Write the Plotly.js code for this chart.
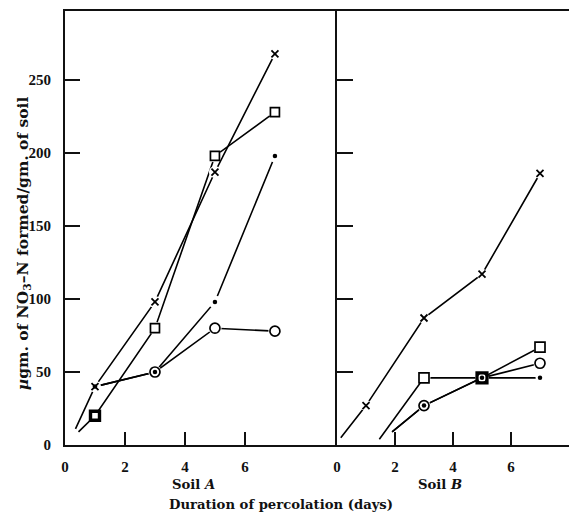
<!DOCTYPE html>
<html>
<head>
<meta charset="utf-8">
<script src="https://cdn.plot.ly/plotly-3.0.1.min.js"></script>
<style>html,body{margin:0;padding:0;background:#fff;}#chart{width:569px;height:519px;}</style>
</head>
<body>
<div id="chart"></div>
<script>
// ---- Data ----
var days = [1, 3, 5, 7];
var daysB = [3, 5, 7];

// Soil A
var soilA_cross  = [40, 98, 187, 268];
var soilA_square = [20, 80, 198, 228];
var soilA_dot    = [40, 50, 98, 198];
var soilA_circle = [40, 50, 80, 78];
var soilA_crossStart  = [0.35, 11];
var soilA_squareStart = [0.45, 9];

// Soil B
var soilB_cross  = [27, 87, 117, 186];
var soilB_square = [46, 46, 67];
var soilB_circle = [27, 46, 56];
var soilB_dot    = [27, 46, 46];
var soilB_crossStart  = [0.13, 5];
var soilB_squareStart = [1.46, 4];
var soilB_circleStart = [1.9, 9];

var yTicks = [0, 50, 100, 150, 200, 250];
var xTicks = [0, 2, 4, 6];

// ---- Build traces ----
var LW = 1.6;
function lineTrace(xs, ys, xa, ya) {
  return {x: xs, y: ys, xaxis: xa, yaxis: ya, mode: 'lines', type: 'scatter',
          line: {color: '#000', width: LW}, hoverinfo: 'skip', showlegend: false};
}
function withStart(start, xs, ys) {
  return {x: [start[0]].concat(xs), y: [start[1]].concat(ys)};
}
var traces = [];
// Soil A lines
var a1 = withStart(soilA_crossStart, days, soilA_cross);
var a2 = withStart(soilA_squareStart, days, soilA_square);
traces.push(lineTrace(a1.x, a1.y, 'x', 'y'));
traces.push(lineTrace(a2.x, a2.y, 'x', 'y'));
traces.push(lineTrace(days, soilA_dot, 'x', 'y'));
traces.push(lineTrace(days, soilA_circle, 'x', 'y'));
// Soil B lines
var b1 = withStart(soilB_crossStart, days, soilB_cross);
var b2 = withStart(soilB_squareStart, daysB, soilB_square);
var b3 = withStart(soilB_circleStart, daysB, soilB_circle);
var b4 = withStart(soilB_circleStart, daysB, soilB_dot);
traces.push(lineTrace(b1.x, b1.y, 'x2', 'y2'));
traces.push(lineTrace(b2.x, b2.y, 'x2', 'y2'));
traces.push(lineTrace(b3.x, b3.y, 'x2', 'y2'));
traces.push(lineTrace(b4.x, b4.y, 'x2', 'y2'));

// white halos to break lines near the symbols
function halo(xs, ys, xa, ya, size) {
  return {x: xs, y: ys, xaxis: xa, yaxis: ya, mode: 'markers', type: 'scatter',
          marker: {color: '#fff', size: size, line: {width: 0}}, hoverinfo: 'skip', showlegend: false};
}
traces.push(halo(days, soilA_cross, 'x', 'y', 12));
traces.push(halo(days, soilA_square, 'x', 'y', 13));
traces.push(halo(days.slice(1), soilA_dot.slice(1), 'x', 'y', 13));
traces.push(halo(days.slice(1), soilA_circle.slice(1), 'x', 'y', 13));
traces.push(halo(days, soilB_cross, 'x2', 'y2', 11));
traces.push(halo(daysB, soilB_square, 'x2', 'y2', 13));
traces.push(halo(daysB, soilB_circle, 'x2', 'y2', 13));
traces.push(halo(daysB, soilB_dot, 'x2', 'y2', 9));

function markers(xs, ys, xa, ya, m) {
  return {x: xs, y: ys, xaxis: xa, yaxis: ya, mode: 'markers', type: 'scatter',
          marker: m, hoverinfo: 'skip', showlegend: false};
}
var crossM  = {symbol: 'x-thin-open', size: 7, color: '#000', line: {color: '#000', width: 1.8}};
var circleM = {symbol: 'circle-open', size: 10, color: '#000', line: {color: '#000', width: 1.7}};
var dotM    = {symbol: 'circle', size: 4.5, color: '#000', line: {width: 0}};

traces.push(markers(days, soilA_cross, 'x', 'y', crossM));
traces.push(markers(days, soilA_square, 'x', 'y',
  {symbol: 'square-open', size: 9, color: '#000', line: {color: '#000', width: [3.4, 1.7, 1.7, 1.7]}}));
traces.push(markers(days.slice(1), soilA_circle.slice(1), 'x', 'y', circleM));
traces.push(markers(days, soilA_dot, 'x', 'y', dotM));
traces.push(markers(days, soilB_cross, 'x2', 'y2', crossM));
traces.push(markers(daysB, soilB_square, 'x2', 'y2',
  {symbol: 'square-open', size: 10, color: '#000', line: {color: '#000', width: [1.7, 3.2, 1.7]}}));
traces.push(markers(daysB, soilB_circle, 'x2', 'y2', circleM));
traces.push(markers(daysB, soilB_dot, 'x2', 'y2', dotM));

// ---- Layout ----
var FONT = 'DejaVu Serif';
var tickFont = {family: 'Liberation Serif', size: 15, color: '#111', weight: 'bold'};
var split = 272 / 504;
var commonX = {showgrid: false, zeroline: false, showline: true, linecolor: '#111', linewidth: 2,
  mirror: true, ticks: 'inside', ticklen: 13, tickwidth: 1.5, tickcolor: '#111',
  tickvals: xTicks, ticktext: xTicks.map(String), tickfont: tickFont, ticklabelstandoff: 7, fixedrange: true};
var commonY = {showgrid: false, zeroline: false, showline: true, linecolor: '#111', linewidth: 2,
  ticks: 'inside', ticklen: 15, tickwidth: 1.5, tickcolor: '#111', range: [0, 297.3],
  tickvals: yTicks, ticktext: yTicks.map(String), tickfont: tickFont, ticklabelstandoff: 9, fixedrange: true};

var titleFont = {family: FONT, size: 13.2, color: '#111', weight: 'bold'};
var layout = {
  width: 569, height: 519,
  margin: {l: 65, r: 0, t: 11, b: 74, pad: 0},
  paper_bgcolor: '#fff', plot_bgcolor: '#fff',
  showlegend: false,
  xaxis: Object.assign({}, commonX, {domain: [0, split], range: [0, 9.07], anchor: 'y'}),
  yaxis: Object.assign({}, commonY, {anchor: 'x'}),
  xaxis2: Object.assign({}, commonX, {domain: [split, 1], range: [0, 8.0], anchor: 'y2'}),
  yaxis2: Object.assign({}, commonY, {anchor: 'x2', showticklabels: false, ticklen: 16, linewidth: 1.6}),
  annotations: [
    {text: 'Soil <i>A</i>', xref: 'x', yref: 'paper', x: 4.3, y: -0.092, showarrow: false,
     xanchor: 'center', yanchor: 'middle', font: titleFont},
    {text: 'Soil <i>B</i>', xref: 'x2', yref: 'paper', x: 3.55, y: -0.092, showarrow: false,
     xanchor: 'center', yanchor: 'middle', font: titleFont},
    {text: 'Duration of percolation (days)', xref: 'x', yref: 'paper', x: 7.2, y: -0.138, showarrow: false,
     xanchor: 'center', yanchor: 'middle', font: titleFont},
    {text: '<i>µ</i>gm. of NO<sub>3</sub>–N formed/gm. of soil', xref: 'paper', yref: 'paper',
     x: -0.0833, y: 0.465, textangle: -90, showarrow: false, xanchor: 'center', yanchor: 'middle',
     font: {family: FONT, size: 15.5, color: '#111', weight: 'bold'}}
  ]
};

Plotly.newPlot('chart', traces, layout, {staticPlot: true, displayModeBar: false});
</script>
</body>
</html>
